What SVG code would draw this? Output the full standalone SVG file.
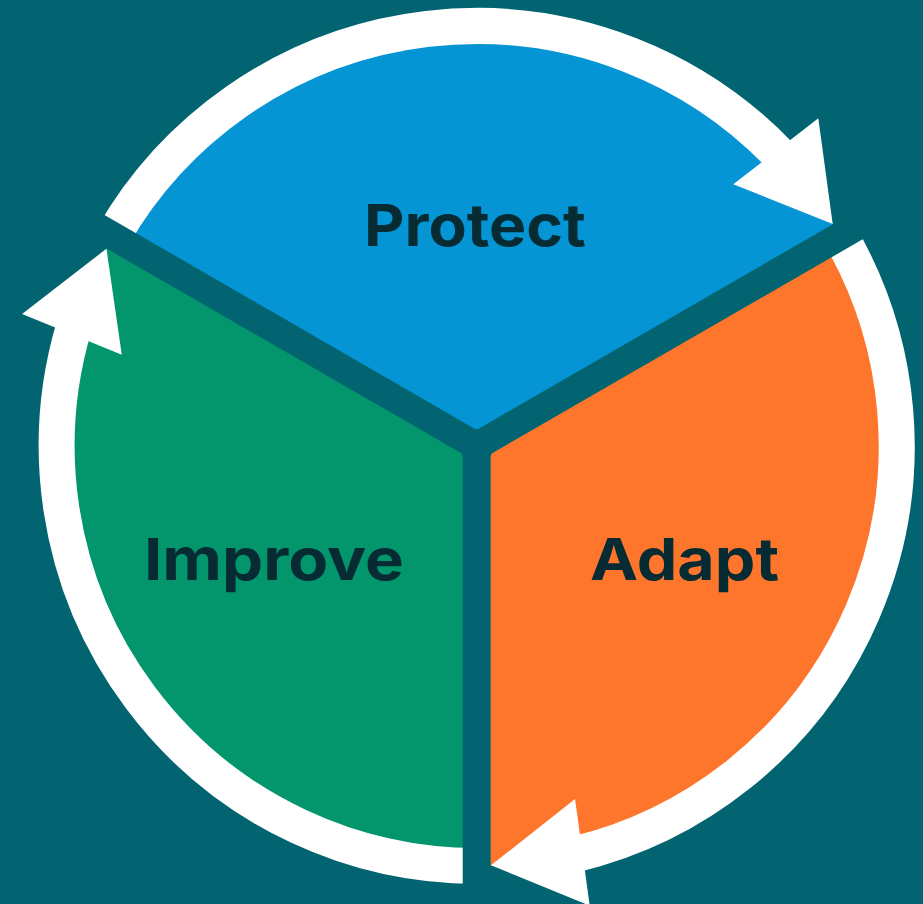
<svg xmlns="http://www.w3.org/2000/svg" xmlns:xlink="http://www.w3.org/1999/xlink" width="923" height="904" viewBox="0 0 923 904">
  <style>
    .bg { fill: #026471; }
    .sep { stroke: #026471; stroke-width: 28; fill: none; }
    .ring { stroke: #ffffff; stroke-width: 36; fill: none; }
    .head { fill: #ffffff; }
    .label { font-family: Inter, "Liberation Sans", sans-serif; font-weight: 700; font-size: 58px; fill: #062B33; text-anchor: middle; }
  </style>
  <defs>
    <g id="arrow">
      <path class="ring" d="M112.97,236 A420,420 0 0 1 781.37,156.87"/>
      <polygon class="head" points="818.3,118.3 832.7,224 733.3,184.3"/>
    </g>
  </defs>
  <rect class="bg" x="0" y="0" width="923" height="904"/>

  <g id="node-protect">
    <path fill="#0595D4" d="M476.7,446 L112.97,236 A420,420 0 0 1 840.43,236 Z"/>
    <text class="label" x="475" y="246" textLength="222" lengthAdjust="spacingAndGlyphs">Protect</text>
  </g>
  <g id="node-adapt">
    <path fill="#FE752C" d="M476.7,446 L840.43,236 A420,420 0 0 1 476.7,866 Z"/>
    <text class="label" x="684.5" y="580" textLength="189" lengthAdjust="spacingAndGlyphs">Adapt</text>
  </g>
  <g id="node-improve">
    <path fill="#03966D" d="M476.7,446 L476.7,866 A420,420 0 0 1 112.97,236 Z"/>
    <text class="label" x="274" y="580" textLength="260" lengthAdjust="spacingAndGlyphs">Improve</text>
  </g>

  <g id="connectors">
    <use xlink:href="#arrow" href="#arrow"/>
    <use xlink:href="#arrow" href="#arrow" transform="rotate(120 476.7 446)"/>
    <use xlink:href="#arrow" href="#arrow" transform="rotate(240 476.7 446)"/>
  </g>

  <g id="separators">
    <line class="sep" x1="476.7" y1="446" x2="901.05" y2="201"/>
    <line class="sep" x1="476.7" y1="446" x2="52.35" y2="201"/>
    <line class="sep" x1="476.7" y1="446" x2="476.7" y2="936"/>
    <circle class="bg" cx="476.7" cy="446" r="17"/>
  </g>
</svg>
